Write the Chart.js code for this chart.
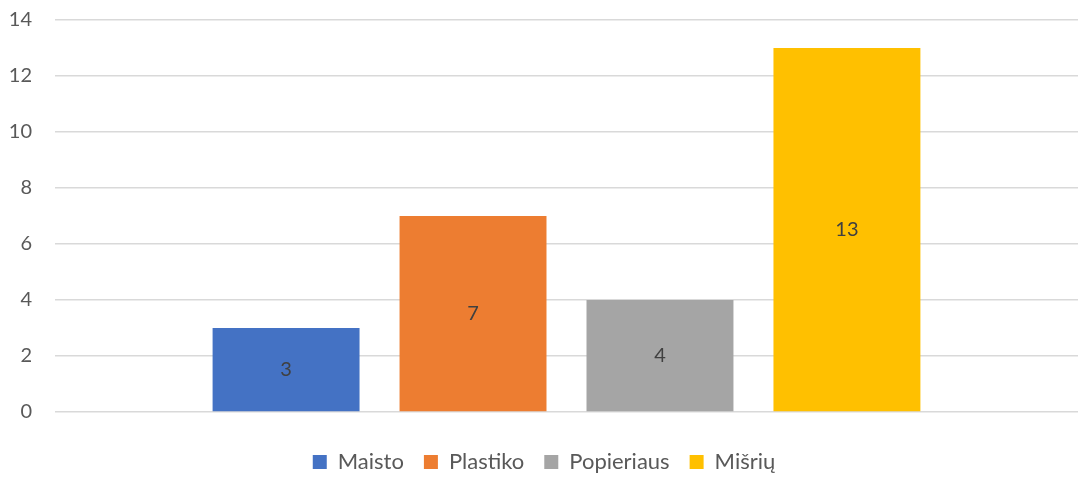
<!DOCTYPE html>
<html>
<head>
<meta charset="utf-8">
<script src="https://cdn.jsdelivr.net/npm/chart.js@4.4.0/dist/chart.umd.min.js"></script>
<style>
  html, body { margin: 0; padding: 0; background: #ffffff; }
  #wrap { width: 1078px; height: 477px; }
</style>
</head>
<body>
<div id="wrap"><canvas id="atliekosChart"></canvas></div>
<script>
// duomenys
var seriesNames = ["Maisto", "Plastiko", "Popieriaus", "Mišrių"];
var seriesValues = [3, 7, 4, 13];
var seriesColors = ["#4472C4", "#ED7D31", "#A5A5A5", "#FFC000"];
var categories = [""];
var yTicks = [0, 2, 4, 6, 8, 10, 12, 14];

// reiksmes stulpeliu viduryje
var barLabels = {
    id: "barLabels",
    afterDatasetsDraw: function(chart) {
        var ctx = chart.ctx;
        ctx.save();
        ctx.font = "20px Lato";
        ctx.fillStyle = "#404040";
        ctx.textAlign = "center";
        ctx.textBaseline = "middle";
        chart.data.datasets.forEach(function(ds, i) {
            chart.getDatasetMeta(i).data.forEach(function(bar, j) {
                var mid = (bar.y + bar.base) / 2;
                ctx.fillText(ds.data[j], bar.x, mid);
            });
        });
        ctx.restore();
    }
};

function initChart() {
    var ctx = document.getElementById("atliekosChart");
    var datasets = seriesNames.map(function(name, i) {
        return {
            label: name,
            data: [seriesValues[i]],
            backgroundColor: seriesColors[i],
            borderWidth: 0,
            barPercentage: 0.786,
            categoryPercentage: 0.731
        };
    });

    new Chart(ctx, {
        type: "bar",
        data: { labels: categories, datasets: datasets },
        plugins: [barLabels],
        options: {
            responsive: true,
            maintainAspectRatio: false,
            animation: false,
            layout: { padding: { top: 20, left: 10, right: 0, bottom: -6 } },
            plugins: {
                legend: {
                    display: true,
                    position: "bottom",
                    labels: {
                        color: "#595959",
                        font: { family: "Lato", size: 22 },
                        boxWidth: 14,
                        boxHeight: 14,
                        padding: 20
                    }
                },
                tooltip: { enabled: false }
            },
            scales: {
                y: {
                    min: 0,
                    max: 14,
                    afterBuildTicks: function(scale) {
                        scale.ticks = yTicks.map(function(v) { return { value: v }; });
                    },
                    afterFit: function(scale) {
                        scale.width = 45;
                        scale.paddingTop = 0;
                        scale.paddingBottom = 0;
                    },
                    grid: { color: "#D9D9D9", lineWidth: 1.5, drawTicks: false },
                    border: { display: false },
                    ticks: {
                        color: "#595959",
                        font: { family: "Lato", size: 20 },
                        padding: 23
                    }
                },
                x: {
                    grid: { display: false },
                    border: { display: false },
                    ticks: { display: false },
                    afterFit: function(scale) { scale.height = 19; }
                }
            }
        }
    });
}

document.addEventListener("DOMContentLoaded", function() {
    initChart();
});
</script>
</body>
</html>
